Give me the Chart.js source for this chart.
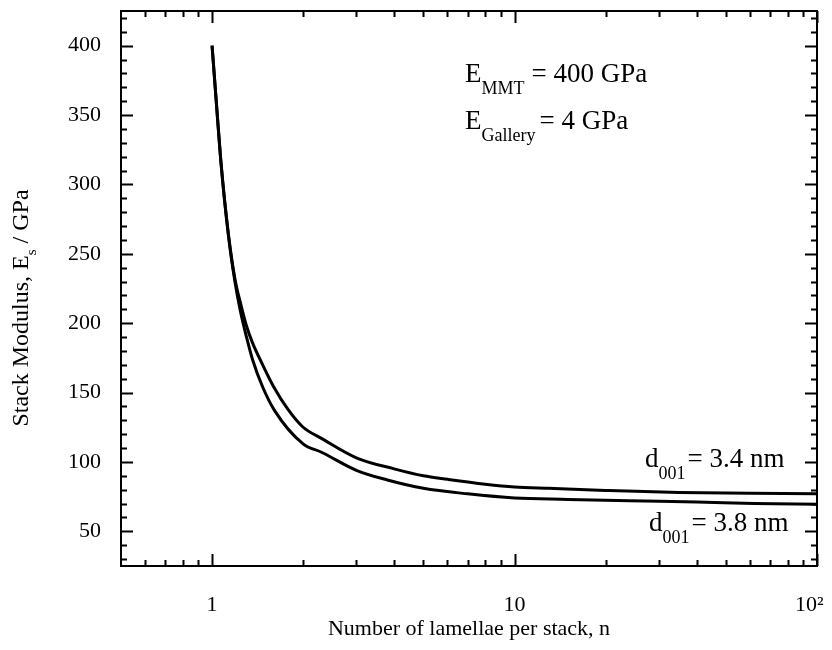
<!DOCTYPE html>
<html>
<head>
<meta charset="utf-8">
<script src="https://cdn.jsdelivr.net/npm/chart.js@4.4.1/dist/chart.umd.min.js"></script>
<style>
  html, body { margin: 0; padding: 0; background: #fff; }
</style>
</head>
<body>
<canvas id="chart" width="832" height="650"></canvas>
<script>
// d001 = 3.4 nm curve (upper)
const nUpper = [1, 1.03, 1.07, 1.13, 1.19, 1.25, 1.3, 1.36, 1.47, 1.6, 1.78, 2, 2.3, 3, 4, 5, 6, 8, 10, 13, 20, 35, 60, 100];
const eUpper = [400, 363, 316, 266, 232, 212, 198, 186, 170, 154, 138, 125, 117, 103, 95, 90, 87.5, 84, 82, 81, 79.5, 78, 77.5, 77];

// d001 = 3.8 nm curve (lower)
const nLower = [1, 1.03, 1.07, 1.13, 1.19, 1.24, 1.3, 1.36, 1.47, 1.61, 2, 2.3, 3, 3.8, 5, 7, 10, 15, 24, 40, 62, 100];
const eLower = [400, 363, 316, 265, 230, 209, 190, 174, 154, 137, 113, 107, 94, 87, 81, 77, 74, 73, 72, 71.2, 70, 69.5];

const xMajor = [1, 10, 100];
const xLabels = ['1', '10', '10\u00B2'];
const xMinor = [0.6, 0.7, 0.8, 0.9, 2, 3, 4, 5, 6, 7, 8, 9, 20, 30, 40, 50, 60, 70, 80, 90];
const yMajor = [50, 100, 150, 200, 250, 300, 350, 400];
const yMinor = [30, 40, 60, 70, 80, 90, 110, 120, 130, 140, 160, 170, 180, 190, 210, 220, 230, 240,
  260, 270, 280, 290, 310, 320, 330, 340, 360, 370, 380, 390, 410, 420];

const serif = '"Liberation Serif", "Times New Roman", serif';

const toPoints = (xs, ys) => xs.map((x, i) => ({ x: x, y: ys[i] }));

// frame, inward ticks, annotations and y title with subscript
const framePlugin = {
  id: 'frame',
  afterDraw(chart) {
    const ctx = chart.ctx;
    const a = chart.chartArea;
    const sx = chart.scales.x, sy = chart.scales.y;
    ctx.save();
    ctx.strokeStyle = '#000';
    ctx.lineWidth = 2;
    ctx.strokeRect(a.left, a.top, a.right - a.left, a.bottom - a.top);

    function xTick(v, len) {
      const px = Math.round(sx.getPixelForValue(v)) + 0.5;
      ctx.beginPath();
      ctx.moveTo(px, a.bottom); ctx.lineTo(px, a.bottom - len);
      ctx.moveTo(px, a.top); ctx.lineTo(px, a.top + len);
      ctx.stroke();
    }
    function yTick(v, len) {
      const py = Math.round(sy.getPixelForValue(v)) + 0.5;
      ctx.beginPath();
      ctx.moveTo(a.left, py); ctx.lineTo(a.left + len, py);
      ctx.moveTo(a.right, py); ctx.lineTo(a.right - len, py);
      ctx.stroke();
    }
    xMajor.forEach(v => xTick(v, 12));
    xMinor.forEach(v => xTick(v, 6));
    yMajor.forEach(v => yTick(v, 12));
    yMinor.forEach(v => yTick(v, 6));

    // annotations
    ctx.fillStyle = '#000';
    ctx.textBaseline = 'alphabetic';
    ctx.textAlign = 'left';
    function subText(x, y, main, sub, rest, gap) {
      ctx.font = '27px ' + serif;
      ctx.fillText(main, x, y);
      let w = ctx.measureText(main).width;
      ctx.font = '18px ' + serif;
      ctx.fillText(sub, x + w, y + 12);
      w += ctx.measureText(sub).width;
      ctx.font = '27px ' + serif;
      ctx.fillText(rest, x + w + gap, y);
    }
    subText(465, 82, 'E', 'MMT', '= 400 GPa', 7);
    subText(465, 129, 'E', 'Gallery', '= 4 GPa', 4);
    subText(645, 467, 'd', '001', '= 3.4 nm', 2);
    subText(649, 531, 'd', '001', '= 3.8 nm', 2);

    // y axis title
    ctx.translate(22, 308);
    ctx.rotate(-Math.PI / 2);
    ctx.textBaseline = 'middle';
    const p1 = 'Stack Modulus, E', p2 = 's', p3 = ' / GPa';
    ctx.font = '24px ' + serif;
    const w1 = ctx.measureText(p1).width, w3 = ctx.measureText(p3).width;
    ctx.font = '15px ' + serif;
    const w2 = ctx.measureText(p2).width;
    const x0 = -(w1 + w2 + w3) / 2;
    ctx.font = '24px ' + serif;
    ctx.fillText(p1, x0, 0);
    ctx.font = '15px ' + serif;
    ctx.fillText(p2, x0 + w1, 10);
    ctx.font = '24px ' + serif;
    ctx.fillText(p3, x0 + w1 + w2, 0);
    ctx.restore();
  }
};

const lineStyle = {
  borderColor: '#000',
  backgroundColor: '#000',
  borderWidth: 3,
  pointRadius: 0,
  fill: false,
  cubicInterpolationMode: 'monotone'
};

new Chart(document.getElementById('chart').getContext('2d'), {
  type: 'line',
  data: {
    datasets: [
      Object.assign({ label: 'd001 = 3.4 nm', data: toPoints(nUpper, eUpper) }, lineStyle),
      Object.assign({ label: 'd001 = 3.8 nm', data: toPoints(nLower, eLower) }, lineStyle)
    ]
  },
  options: {
    responsive: false,
    animation: false,
    devicePixelRatio: 1,
    layout: { padding: { top: 11, right: 15, left: 0, bottom: 0 } },
    plugins: {
      legend: { display: false },
      tooltip: { enabled: false }
    },
    scales: {
      x: {
        type: 'logarithmic',
        min: 0.5,
        max: 100,
        afterBuildTicks: s => { s.ticks = xMajor.map(v => ({ value: v })); },
        afterFit: s => { s.height = 84; s.paddingLeft = 0; s.paddingRight = 0; },
        grid: { display: false, drawTicks: false },
        border: { display: false },
        ticks: {
          color: '#000',
          font: { family: serif, size: 22 },
          padding: 26,
          maxRotation: 0,
          autoSkip: false,
          // the last label sits left of its tick, as in the source figure
          callback: v => {
            const i = xMajor.indexOf(v);
            return i === xMajor.length - 1 ? xLabels[i] + '\u2002\u2009' : xLabels[i];
          }
        },
        title: {
          display: true,
          text: 'Number of lamellae per stack, n',
          color: '#000',
          font: { family: serif, size: 22 },
          padding: { top: 0, bottom: 8 }
        }
      },
      y: {
        min: 25,
        max: 425,
        afterBuildTicks: s => { s.ticks = yMajor.map(v => ({ value: v })); },
        afterFit: s => { s.width = 121; s.paddingTop = 0; s.paddingBottom = 0; },
        grid: { display: false, drawTicks: false },
        border: { display: false },
        ticks: {
          color: '#000',
          font: { family: serif, size: 22 },
          padding: 20
        }
      }
    }
  },
  plugins: [framePlugin]
});
</script>
</body>
</html>
